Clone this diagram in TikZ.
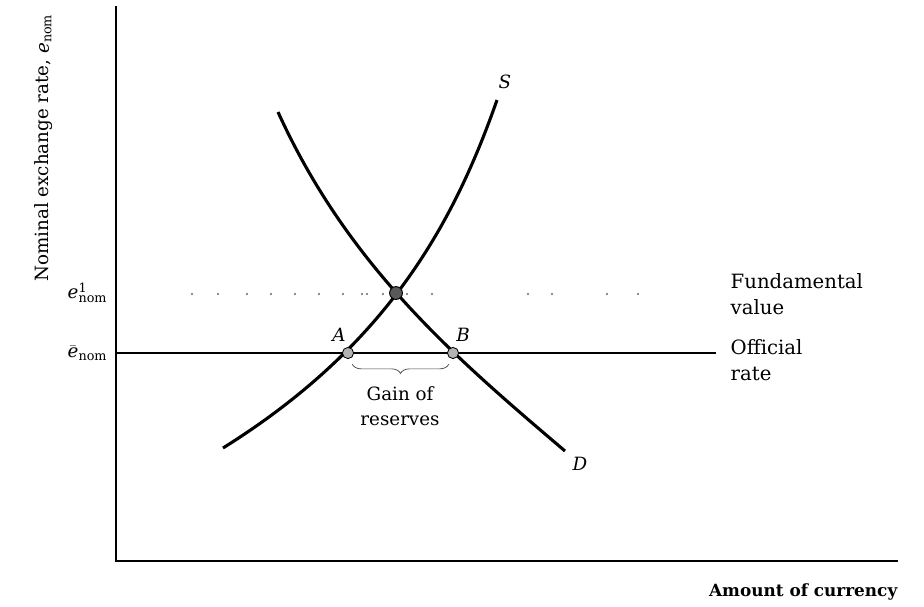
\documentclass[tikz,border=0pt]{standalone}
\usepackage{amsmath}
\usepackage{fontspec}
\setmainfont{DejaVu Serif}
\usepackage{tikz}
\usetikzlibrary{positioning, decorations.pathreplacing}
\tikzset{
  crv/.style  = {line width=2.2pt},
  ax/.style   = {line width=1pt},
  pt/.style   = {draw, circle, line width=0.6pt, fill=black!30, minimum size=2.8mm, inner sep=0pt},
  ptE/.style  = {draw, circle, line width=0.7pt, fill=black!65, minimum size=3.2mm, inner sep=0pt},
  txt/.style  = {font=\fontsize{13}{18}\selectfont, inner sep=1pt},
  side/.style = {font=\fontsize{14}{18}\selectfont, inner sep=1pt, align=left, anchor=west},
  lab/.style  = {font=\fontsize{13}{15}\selectfont\itshape, inner sep=1pt},
}

\begin{document}
\begin{tikzpicture}[x=0.025cm, y=-0.025cm]
  \useasboundingbox (0,0) rectangle (924,606);
  % axes
  \coordinate (O) at (116,561);
  \coordinate (ytop) at (116,6);
  \coordinate (xend) at (898,561);
  \draw[ax] (ytop) -- (O) -- (xend);
  \node[txt, font=\fontsize{12}{15}\selectfont\bfseries, anchor=east] (xlab) at (899,592) {Amount of currency};
  \node[txt, rotate=90] (ylab) at (44,148) {Nominal exchange rate, $\textit{e}_{\text{nom}}$};
  % levels
  \foreach \x in {192,218,247,271,295,319,343,362,367,383,407,432,528,552,607,638}{
    \fill[black!60] (\x,294) circle[radius=0.8pt];
  }
  \coordinate (ol) at (116,353);
  \coordinate (or) at (716,353);
  \draw[crv, line width=1.9pt] (ol) -- (or);
  \node[txt, anchor=east] (e1) at (109,293) {$\textit{e}^{\text{1}}_{\text{nom}}$};
  \node[txt, anchor=east] (eb) at (109,353) {$\bar{\textit{e}}_{\text{nom}}$};
  \node[side] (fund) at (729,294) {Fundamental\\value};
  \node[side] (offr) at (729,360) {Official\\rate};
  % supply and demand
  \coordinate (s0) at (223,448);
  \coordinate (s1) at (497,100);
  \coordinate (d0) at (278,112);
  \coordinate (d1) at (565,451);
  \draw[crv] (s0) .. controls (383,348) and (451.5,230) .. (s1);
  \draw[crv] (d0) .. controls (348,266) and (455,357.5) .. (d1);
  \node[lab] (S) at (505,82) {S};
  \node[lab] (D) at (580,464) {D};
  % points
  \node[ptE] (E) at (396,293) {};
  \node[pt] (A) at (348,353) {};
  \node[pt] (B) at (453,353) {};
  \node[lab] (Alab) at (339,335) {A};
  \node[lab] (Blab) at (463,335) {B};
  \draw[decorate, decoration={brace, mirror, amplitude=6.5pt}, line width=0.5pt, black!75]
    ([yshift=-5pt]A.south east) -- ([yshift=-5pt]B.south west);
  \node[txt, align=center] (gain) at (400,406) {Gain of\\reserves};
\end{tikzpicture}
\end{document}
